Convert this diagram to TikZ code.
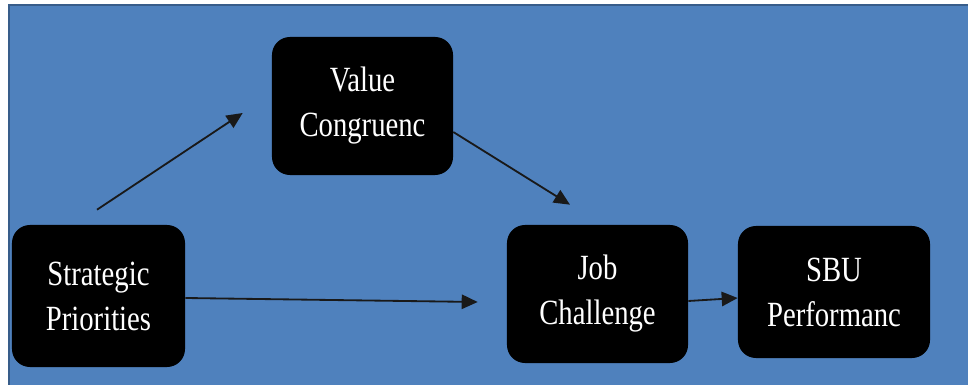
\documentclass[tikz,border=0pt]{standalone}
\usepackage{fontspec}
\setmainfont{Liberation Serif}[FakeStretch=0.81]
\usetikzlibrary{arrows.meta}

\definecolor{panel}{RGB}{79,129,189}
\definecolor{panelrim}{RGB}{56,93,138}

\tikzset{
  factor/.style={fill=black, rounded corners=0.45cm, text=white, align=center,
    inner sep=0pt, font=\fontsize{25.2}{32}\selectfont},
  link/.style={-{Triangle[length=0.4cm,width=0.36cm]}, line width=1.3pt, black!90}
}

\begin{document}
\begin{tikzpicture}[x=0.025cm, y=-0.025cm]
            \useasboundingbox (0,0) rectangle (968,385);
            \fill [panel] (9,5) rectangle (968,385);
            \draw [panelrim, line width=2pt] (9,385) -- (9,5) -- (968,5);

            \node [factor, minimum width=4.325cm, minimum height=3.55cm] (sp) at (98.5,296) {Strategic\\Priorities};
            \node [factor, minimum width=4.525cm, minimum height=3.45cm] (vc) at (362.5,106) {Value\\Congruenc};
            \node [factor, minimum width=4.525cm, minimum height=3.45cm] (jc) at (597.5,294) {Job\\Challenge};
            \node [factor, minimum width=4.8cm, minimum height=3.3cm] (sbu) at (834,292) {SBU\\Performanc};

            \draw [link] ([shift={(-1.5,-15)}]sp.north) -- ([shift={(-29,7)}]vc.west);
            \draw [link] ([shift={(0,26)}]vc.east) -- ([shift={(-27.5,-20)}]jc.north);
            \draw [link] ([shift={(0,2)}]sp.east) -- ([shift={(-29,8)}]jc.west);
            \draw [link] ([shift={(0,7)}]jc.east) -- ([shift={(0,6)}]sbu.west);
        \end{tikzpicture}
\end{document}
